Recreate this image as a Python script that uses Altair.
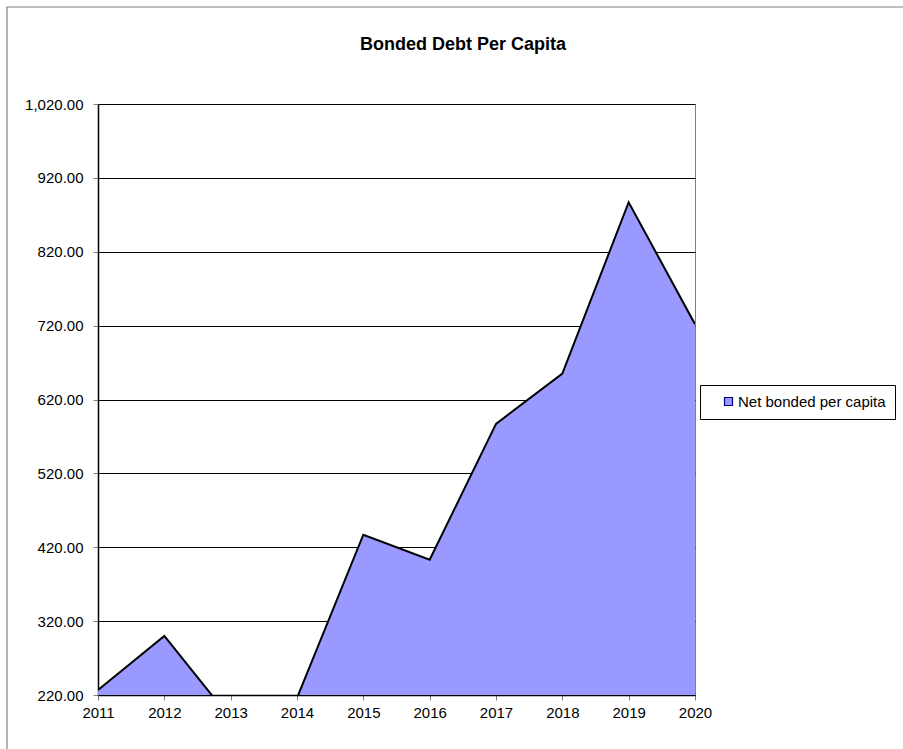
import altair as alt
import pandas as pd

years = [2011, 2012, 2013, 2014, 2015, 2016, 2017, 2018, 2019, 2020]
values = [226.8, 300.0, 188.0, 216.0, 437.0, 403.0, 587.0, 655.0, 887.0, 722.0]
series_name = "Net bonded per capita"
y_ticks = [220, 320, 420, 520, 620, 720, 820, 920, 1020]
title_text = "Bonded Debt Per Capita"

df = pd.DataFrame({"year": years, "value": values, "series": [series_name] * len(years)})

FONT = "Liberation Sans"

x_enc = alt.X(
    "year:Q",
    scale=alt.Scale(domain=[2011, 2020], nice=False, zero=False),
    axis=alt.Axis(
        values=years, format="d", title=None, grid=False,
        labelFlush=False, labelOverlap=False,
        domainColor="#000000", domainWidth=1.5,
        tickColor="#808080", tickSize=5, labelPadding=5,
        labelFont=FONT, labelFontSize=15, labelColor="#000000",
    ),
)
y_enc = alt.Y(
    "value:Q",
    scale=alt.Scale(domain=[220, 1020], nice=False, zero=False),
    axis=alt.Axis(
        values=y_ticks, format=",.2f", title=None, grid=True,
        labelFlush=False, labelOverlap=False,
        gridColor="#000000", gridWidth=1,
        domainColor="#000000", domainWidth=1.5,
        tickColor="#808080", tickSize=5, labelPadding=10,
        labelFont=FONT, labelFontSize=15, labelColor="#000000",
    ),
)

base = alt.Chart(df)

area = base.mark_area(clip=True, opacity=1).encode(
    x=x_enc,
    y=y_enc,
    color=alt.Color(
        "series:N",
        scale=alt.Scale(domain=[series_name], range=["#9999FF"]),
        legend=alt.Legend(
            title=None, orient="none", legendX=602, legendY=281,
            symbolType="square", symbolSize=64,
            symbolStrokeColor="#000080", symbolStrokeWidth=1.2,
            labelFont=FONT, labelFontSize=15, labelColor="#000000",
            strokeColor="#000000", padding=9, fillColor="#ffffff",
            symbolOffset=12, labelOffset=2,
        ),
    ),
)

line = base.mark_line(clip=True, color="#000000", strokeWidth=2).encode(
    x="year:Q", y="value:Q"
)

title_df = pd.DataFrame({"t": [title_text]})
title = alt.Chart(title_df).mark_text(
    font=FONT, fontSize=18, fontWeight="bold", color="#000000",
    align="center", baseline="alphabetic",
).encode(text="t:N", x=alt.value(365), y=alt.value(-54))

border = alt.Chart(title_df).mark_rect(
    fill=None, stroke="#808080", strokeWidth=1.2, clip=False
).encode(
    x=alt.value(-91), y=alt.value(-97), x2=alt.value(820), y2=alt.value(660)
)

chart = alt.layer(border, area, line, title).properties(
    width=597, height=591,
    autosize=alt.AutoSizeParams(type="none"),
    padding={"left": 98, "top": 104, "right": 208, "bottom": 54},
    background="#ffffff",
).configure_view(stroke="#808080", strokeWidth=1)

chart.save("out.html", embed_options={"renderer": "svg", "actions": False})
